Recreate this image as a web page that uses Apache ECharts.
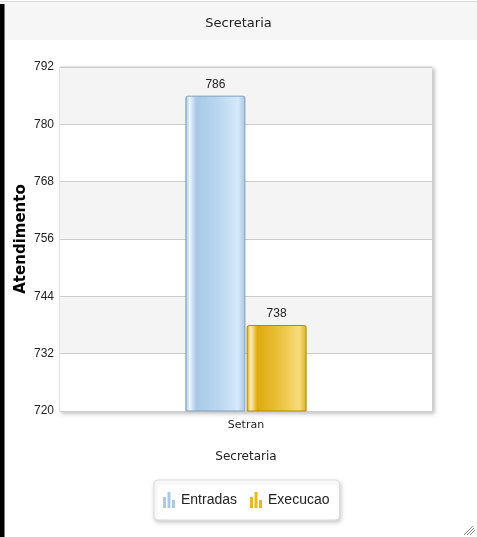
<!DOCTYPE html>
<html>
<head>
<meta charset="utf-8">
<script src="https://cdn.jsdelivr.net/npm/echarts@6/dist/echarts.min.js"></script>
<style>
html,body{margin:0;padding:0;background:#fff;}
#chart{width:477px;height:537px;}
</style>
</head>
<body>
<div id="chart"></div>
<script>
const categories = ['Setran'];
const seriesNames = ['Entradas', 'Execucao'];
const entradas = [786];
const execucao = [738];
const yMin = 720, yMax = 792, yInterval = 12;
const titleText = 'Secretaria';
const xAxisName = 'Secretaria';
const yAxisName = 'Atendimento';

const chart = echarts.init(document.getElementById('chart'), null, {renderer: 'canvas'});
const barIcon = 'path://M0,5h3v11h-3zM4.5,0h3v16h-3zM9,8h3v8h-3z';

function grad(stops) {
  return new echarts.graphic.LinearGradient(0, 0, 1, 0, stops.map((c, i) => ({offset: c[0], color: c[1]})));
}
const blueGrad = grad([[0, '#9fbfdc'], [0.07, '#eef6fd'], [0.18, '#a8c9e5'], [0.55, '#bad7ef'], [0.88, '#d5e9fa'], [1, '#a6c4df']]);
const goldGrad = grad([[0, '#d9a50a'], [0.07, '#fbefb8'], [0.18, '#dfa90e'], [0.55, '#eac23c'], [0.88, '#f7dc7c'], [1, '#dcae2a']]);

const option = {
  animation: false,
  backgroundColor: '#fff',
  title: {
    text: titleText, left: 'center', top: 12,
    textStyle: {fontFamily: 'DejaVu Sans', fontSize: 13, fontWeight: 'normal', color: '#222'}
  },
  graphic: [
    {type: 'rect', z: -10, shape: {x: 0, y: 2, width: 477, height: 38}, style: {fill: '#f6f6f6'}},
    {type: 'line', z: -10, shape: {x1: 0, y1: 1.5, x2: 477, y2: 1.5}, style: {stroke: '#d8d8d8', lineWidth: 1}},
    {type: 'rect', z: 100, shape: {x: 0, y: 4, width: 4.5, height: 533}, style: {fill: '#000'}},
    {type: 'line', shape: {x1: 464, y1: 535, x2: 473, y2: 526}, style: {stroke: '#888', lineWidth: 1}},
    {type: 'line', shape: {x1: 467, y1: 535, x2: 474, y2: 528}, style: {stroke: '#888', lineWidth: 1}},
    {type: 'line', shape: {x1: 470, y1: 535, x2: 475, y2: 530}, style: {stroke: '#888', lineWidth: 1}}
  ],
  grid: {
    left: 60, right: 45, top: 67, bottom: 126,
    outerBoundsMode: 'none', containLabel: false,
    show: true, backgroundColor: '#fff', borderColor: '#d6d6d6', borderWidth: 1,
    shadowBlur: 4, shadowColor: 'rgba(0,0,0,0.25)', shadowOffsetX: 2, shadowOffsetY: 2
  },
  legend: {
    data: [
      {name: seriesNames[0], itemStyle: {color: '#a9cbe8', borderWidth: 0}},
      {name: seriesNames[1], itemStyle: {color: '#e8b820', borderWidth: 0}}
    ],
    bottom: 17, left: 154,
    icon: barIcon, itemWidth: 12, itemHeight: 16, itemGap: 13,
    padding: [12, 10, 12, 9],
    backgroundColor: '#fff', borderColor: '#dedede', borderWidth: 1, borderRadius: 4,
    shadowBlur: 4, shadowColor: 'rgba(0,0,0,0.2)', shadowOffsetX: 1, shadowOffsetY: 2,
    textStyle: {fontFamily: 'Liberation Sans', fontSize: 14, color: '#222', padding: [0, 0, 0, 1]}
  },
  xAxis: {
    type: 'category', data: categories,
    name: xAxisName, nameLocation: 'middle', nameGap: 40, nameMoveOverlap: false,
    nameTextStyle: {fontFamily: 'DejaVu Sans', fontSize: 12, color: '#222'},
    axisLine: {show: true, lineStyle: {color: '#cfcfcf'}},
    axisTick: {show: false},
    axisLabel: {fontFamily: 'DejaVu Sans', fontSize: 11, color: '#222', margin: 9}
  },
  yAxis: {
    type: 'value', min: yMin, max: yMax, interval: yInterval,
    name: yAxisName, nameLocation: 'middle', nameGap: 31, nameMoveOverlap: false,
    nameTextStyle: {fontFamily: 'DejaVu Sans', fontSize: 15, fontWeight: 'bold', color: '#000'},
    axisLine: {show: false}, axisTick: {show: false},
    axisLabel: {fontFamily: 'Liberation Sans', fontSize: 12, color: '#222', margin: 6},
    splitLine: {show: true, lineStyle: {color: '#cccccc', width: 1}},
    splitArea: {show: true, areaStyle: {color: ['#ffffff', '#f4f4f4']}}
  },
  series: [
    {
      name: seriesNames[0], type: 'bar', data: entradas, barWidth: 60, barGap: '2%',
      itemStyle: {color: blueGrad, borderColor: '#7f9fbf', borderWidth: 1, borderRadius: [2, 2, 0, 0]},
      label: {show: true, position: 'top', distance: 5, fontFamily: 'Liberation Sans', fontSize: 12, color: '#222'}
    },
    {
      name: seriesNames[1], type: 'bar', data: execucao, barWidth: 60,
      itemStyle: {color: goldGrad, borderColor: '#b08a0a', borderWidth: 1, borderRadius: [2, 2, 0, 0]},
      label: {show: true, position: 'top', distance: 5, fontFamily: 'Liberation Sans', fontSize: 12, color: '#222'}
    }
  ]
};
chart.setOption(option);
</script>
</body>
</html>
